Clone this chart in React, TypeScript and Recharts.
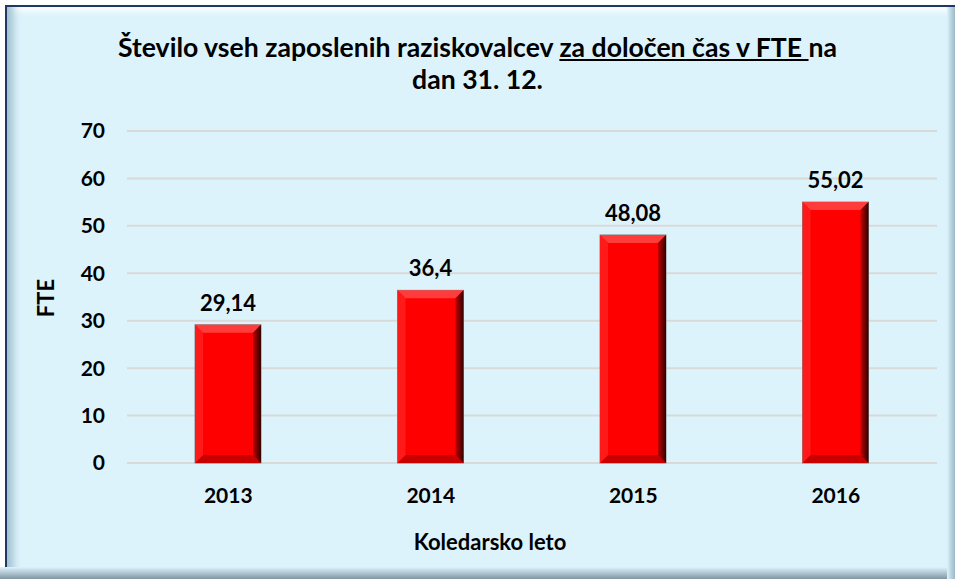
import { BarChart, Bar, XAxis, YAxis, CartesianGrid, LabelList } from "recharts";

const years = ["2013", "2014", "2015", "2016"];
const fte = [29.14, 36.4, 48.08, 55.02];
const yTicks = [0, 10, 20, 30, 40, 50, 60, 70];

const data = years.map((year, i) => ({ year, fte: fte[i] }));

const FONT = "Lato, 'Open Sans', sans-serif";
const fmt = (v: number) => String(v).replace(".", ",");

// red bar with a bevelled look
function BevelBar(props: any) {
  const { x, y, width, height } = props;
  if (!height || height <= 0) return null;
  const b = 8;
  return (
    <g>
      <rect x={x} y={y} width={width} height={height} fill="#FF0000" stroke="#8a8a8a" strokeWidth={1} />
      <polygon points={`${x},${y} ${x + width},${y} ${x + width - b},${y + b} ${x + b},${y + b}`} fill="#FF3c3c" />
      <polygon points={`${x},${y + height} ${x + width},${y + height} ${x + width - b},${y + height - b} ${x + b},${y + height - b}`} fill="#c80000" />
      <polygon points={`${x + width},${y} ${x + width},${y + height} ${x + width - b},${y + height - b} ${x + width - b},${y + b}`} fill="url(#rightEdge)" />
      <polygon points={`${x},${y} ${x},${y + height} ${x + b},${y + height - b} ${x + b},${y + b}`} fill="#ff1a1a" />
    </g>
  );
}

export default function App() {
  return (
    <div style={{ position: "absolute", left: 0, top: 0, width: 955, height: 579, overflow: "hidden", fontFamily: FONT }}>
      <div
        style={{
          position: "absolute", left: 5, top: 5, width: 955, height: 579,
          background: "#DDF3FC",
          borderLeft: "2px solid #1F3864", borderTop: "2px solid #1F3864",
          boxShadow: "inset 12px 0 8px -6px #9fbfcf, inset 0 8px 6px -4px #ffffff",
        }}
      />
      <div style={{ position: "absolute", left: 0, top: 567, width: 955, height: 12, background: "linear-gradient(#DDF3FC, #b9cfda 40%, #7f96a3)" }} />
      <div style={{ position: "absolute", left: 947, top: 7, width: 8, height: 572, background: "linear-gradient(90deg, #DDF3FC, #b8d3e0 50%, #9fb7c4)" }} />
      <div style={{ position: "absolute", left: 0, top: 31, width: 955, textAlign: "center", fontWeight: 700, fontSize: 26.6, lineHeight: "32px", color: "#000" }}>
        Število vseh zaposlenih raziskovalcev <span style={{ textDecoration: "underline" }}>za določen čas v FTE </span>na
        <br />
        dan 31. 12.
      </div>
      <div style={{ position: "absolute", left: 45, top: 298, transform: "translate(-50%, -50%) rotate(-90deg)", fontWeight: 700, fontSize: 22, whiteSpace: "nowrap" }}>
        FTE
      </div>
      <div style={{ position: "absolute", left: 490, top: 541, transform: "translate(-50%, -50%)", fontWeight: 700, fontSize: 22, whiteSpace: "nowrap" }}>
        Koledarsko leto
      </div>
      <div style={{ position: "absolute", left: 0, top: 0 }}>
        <BarChart width={955} height={579} data={data} margin={{ top: 131, right: 18, bottom: 86, left: 67 }} barSize={66}>
          <defs>
            <linearGradient id="rightEdge" x1="0" y1="0" x2="1" y2="0">
              <stop offset="0%" stopColor="#c00000" />
              <stop offset="100%" stopColor="#300000" />
            </linearGradient>
          </defs>
          <CartesianGrid vertical={false} stroke="#D9D9D9" strokeWidth={2} />
          <XAxis
            dataKey="year" axisLine={false} tickLine={false} height={30}
            tickSize={6} tickMargin={19}
            tick={{ fontSize: 21, fontWeight: 700, fill: "#000", fontFamily: FONT }}
          />
          <YAxis
            domain={[0, 70]} ticks={yTicks} axisLine={false} tickLine={false} width={60}
            tickSize={6} tickMargin={16}
            tick={{ fontSize: 21, fontWeight: 700, fill: "#000", fontFamily: FONT }}
          />
          <Bar dataKey="fte" shape={<BevelBar />} isAnimationActive={false}>
            <LabelList dataKey="fte" position="top" offset={14} formatter={fmt}
              style={{ fontSize: 22, fontWeight: 700, fill: "#000", fontFamily: FONT }} />
          </Bar>
        </BarChart>
      </div>
    </div>
  );
}
